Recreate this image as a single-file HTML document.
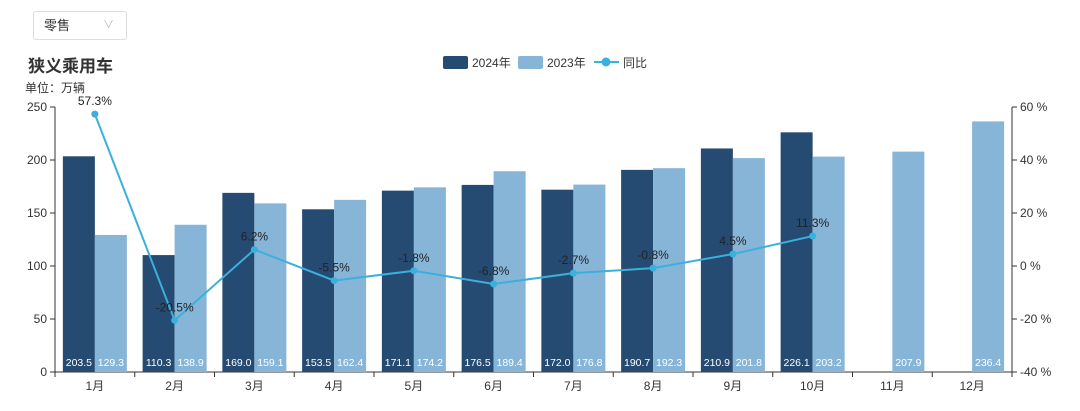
<!DOCTYPE html>
<html><head><meta charset="utf-8"><style>
body{margin:0;background:#fff;font-family:"Liberation Sans","Noto Sans CJK SC",sans-serif;}
#wrap{position:relative;width:1080px;height:411px;overflow:hidden}
</style></head><body>
<div id="wrap">
<div style="position:absolute;left:33px;top:11px;width:94px;height:29px;border:1px solid #ddd;border-radius:3px;box-sizing:border-box;font-size:13px;color:#333;line-height:27px;padding-left:10px">零售<span style="position:absolute;right:12px;top:0;color:#bbb;font-size:11px">∨</span></div>
<div style="position:absolute;left:28px;top:52px;font-size:17px;font-weight:bold;color:#333">狭义乘用车</div>
<div style="position:absolute;left:25px;top:79px;font-size:12px;color:#333">单位：万辆</div>
<svg id="svg" width="1080" height="411" style="position:absolute;left:0;top:0"></svg>
</div>
<script>
const categories=["1月","2月","3月","4月","5月","6月","7月","8月","9月","10月","11月","12月"];
const y2024=[203.5,110.3,169.0,153.5,171.1,176.5,172.0,190.7,210.9,226.1,null,null];
const y2023=[129.3,138.9,159.1,162.4,174.2,189.4,176.8,192.3,201.8,203.2,207.9,236.4];
const yoy=[57.3,-20.5,6.2,-5.5,-1.8,-6.8,-2.7,-0.8,4.5,11.3,null,null];
const leftTicks=[0,50,100,150,200,250];
const rightTicks=[-40,-20,0,20,40,60];
const svg=document.getElementById('svg');const NS='http://www.w3.org/2000/svg';
const X0=55,X1=1012,Y0=372,Y1=107,bw=(X1-X0)/12;
const yL=v=>Y0-(v/250)*(Y0-Y1);
const yR=v=>Y0-((v+40)/100)*(Y0-Y1);
const cx=i=>X0+bw*(i+0.5);
function mk(t,a,txt){const e=document.createElementNS(NS,t);for(const k in a)e.setAttribute(k,a[k]);if(txt!=null)e.textContent=txt;svg.appendChild(e);return e;}
// axes
let e=mk('line',{x1:X0,y1:Y1,x2:X0,y2:Y0,stroke:'#333'});


e=mk('line',{x1:X1,y1:Y1,x2:X1,y2:Y0,stroke:'#333'});


e=mk('line',{x1:X0,y1:Y0,x2:X1,y2:Y0,stroke:'#333'});


leftTicks.forEach(v=>{mk('line',{x1:X0-5,x2:X0,y1:yL(v),y2:yL(v),stroke:'#333'});
e=mk('text',{x:X0-8,y:yL(v)+4,'text-anchor':'end','font-size':12,fill:'#333'},v);

});
rightTicks.forEach(v=>{mk('line',{x1:X1,x2:X1+5,y1:yR(v),y2:yR(v),stroke:'#333'});
e=mk('text',{x:X1+8,y:yR(v)+4,'font-size':12,fill:'#333'},v+' %');

});
for(let i=0;i<=12;i++)mk('line',{x1:X0+bw*i,x2:X0+bw*i,y1:Y0,y2:Y0+5,stroke:'#333'});
categories.forEach((c,i)=>{
e=mk('text',{x:cx(i),y:Y0+18,'text-anchor':'middle','font-size':12,fill:'#333'},c);


const w=32;
if(y2024[i]!=null){e=mk('rect',{x:cx(i)-w,y:yL(y2024[i]),width:w,height:Y0-yL(y2024[i]),fill:'#264b72'});


mk('text',{x:cx(i)-w/2,y:Y0-6,'text-anchor':'middle','font-size':10.5,fill:'#fff'},y2024[i].toFixed(1));}
if(y2023[i]!=null){e=mk('rect',{x:cx(i),y:yL(y2023[i]),width:w,height:Y0-yL(y2023[i]),fill:'#87b5d8'});


mk('text',{x:cx(i)+w/2,y:Y0-6,'text-anchor':'middle','font-size':10.5,fill:'#fff'},y2023[i].toFixed(1));}
});
const pts=yoy.map((v,i)=>v==null?null:[cx(i),yR(v)]).filter(p=>p);
e=mk('polyline',{points:pts.map(p=>p.join(',')).join(' '),fill:'none',stroke:'#3ab0dd','stroke-width':2});


yoy.forEach((v,i)=>{if(v==null)return;
e=mk('circle',{cx:cx(i),cy:yR(v),r:3.5,fill:'#3ab0dd'});


mk('text',{x:cx(i),y:yR(v)-9,'text-anchor':'middle','font-size':12,fill:'#222'},v.toFixed(1)+'%');});
// legend
e=mk('rect',{x:443,y:56,width:25,height:13,rx:2,fill:'#264b72'});


mk('text',{x:472,y:67,'font-size':12,fill:'#333'},'2024年');
e=mk('rect',{x:518,y:56,width:25,height:13,rx:2,fill:'#87b5d8'});


mk('text',{x:547,y:67,'font-size':12,fill:'#333'},'2023年');
e=mk('line',{x1:594,x2:619,y1:62,y2:62,stroke:'#3ab0dd','stroke-width':2});


mk('circle',{cx:606,cy:62,r:4.5,fill:'#3ab0dd'});
mk('text',{x:623,y:67,'font-size':12,fill:'#333'},'同比');
</script>
</body></html>
